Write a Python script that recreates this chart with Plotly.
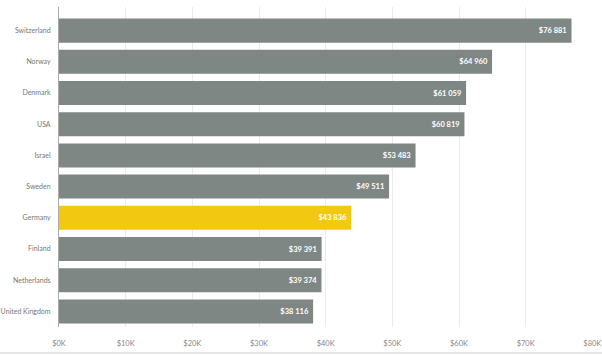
import plotly.graph_objects as go

countries = ["Switzerland", "Norway", "Denmark", "USA", "Israel", "Sweden",
             "Germany", "Finland", "Netherlands", "United Kingdom"]
values = [76881, 64960, 61059, 60819, 53483, 49511, 43836, 39391, 39374, 38116]
highlight = "Germany"
tick_vals = [0, 10000, 20000, 30000, 40000, 50000, 60000, 70000, 80000]
tick_text = ["$0K", "$10K", "$20K", "$30K", "$40K", "$50K", "$60K", "$70K", "$80K"]

labels = ["$" + f"{v:,}".replace(",", " ") + "\u00a0" for v in values]
colors = ["#F2C811" if c == highlight else "#7F8785" for c in countries]

FONT = "Lato"

fig = go.Figure(go.Bar(
    x=values, y=countries, orientation="h",
    marker=dict(color=colors, line=dict(width=0)),
    text=labels, textposition="inside", insidetextanchor="end",
    textfont=dict(family=FONT, size=7.5, color="white", weight="bold"),
    cliponaxis=False,
))

fig.update_layout(
    width=602, height=356,
    margin=dict(l=59, r=9, t=7, b=29, autoexpand=False),
    paper_bgcolor="white", plot_bgcolor="white",
    bargap=0.23,
    showlegend=False,
    font=dict(family=FONT, size=7.5, color="#777777"),
    uniformtext=dict(minsize=7, mode="show"),
    shapes=[dict(type="line", xref="paper", yref="paper",
                 x0=-59/534, x1=(534+9)/534, y0=-26/320, y1=-26/320,
                 line=dict(color="#DDDDDD", width=1.5))],
)
fig.update_xaxes(
    range=[0, 80100], tickvals=tick_vals, ticktext=tick_text,
    showgrid=True, gridcolor="#EBEBEB", gridwidth=1,
    zeroline=False, showline=False, ticks="",
    tickfont=dict(family=FONT, size=7.5, color="#888888"),
    ticklabelstandoff=10, ticklabeloverflow="allow", automargin=False,
)
fig.update_yaxes(
    categoryorder="array", categoryarray=countries,
    range=[9.5, -0.757],
    showline=True, linecolor="#AAAAAA", linewidth=1,
    showgrid=False, ticks="",
    tickfont=dict(family=FONT, size=7, color="#777777"),
    ticklabelstandoff=6, automargin=False,
)

fig.write_html("out.html",
               config={"displayModeBar": False},
               post_script="document.body.style.margin='0';document.body.style.overflow='hidden';")
